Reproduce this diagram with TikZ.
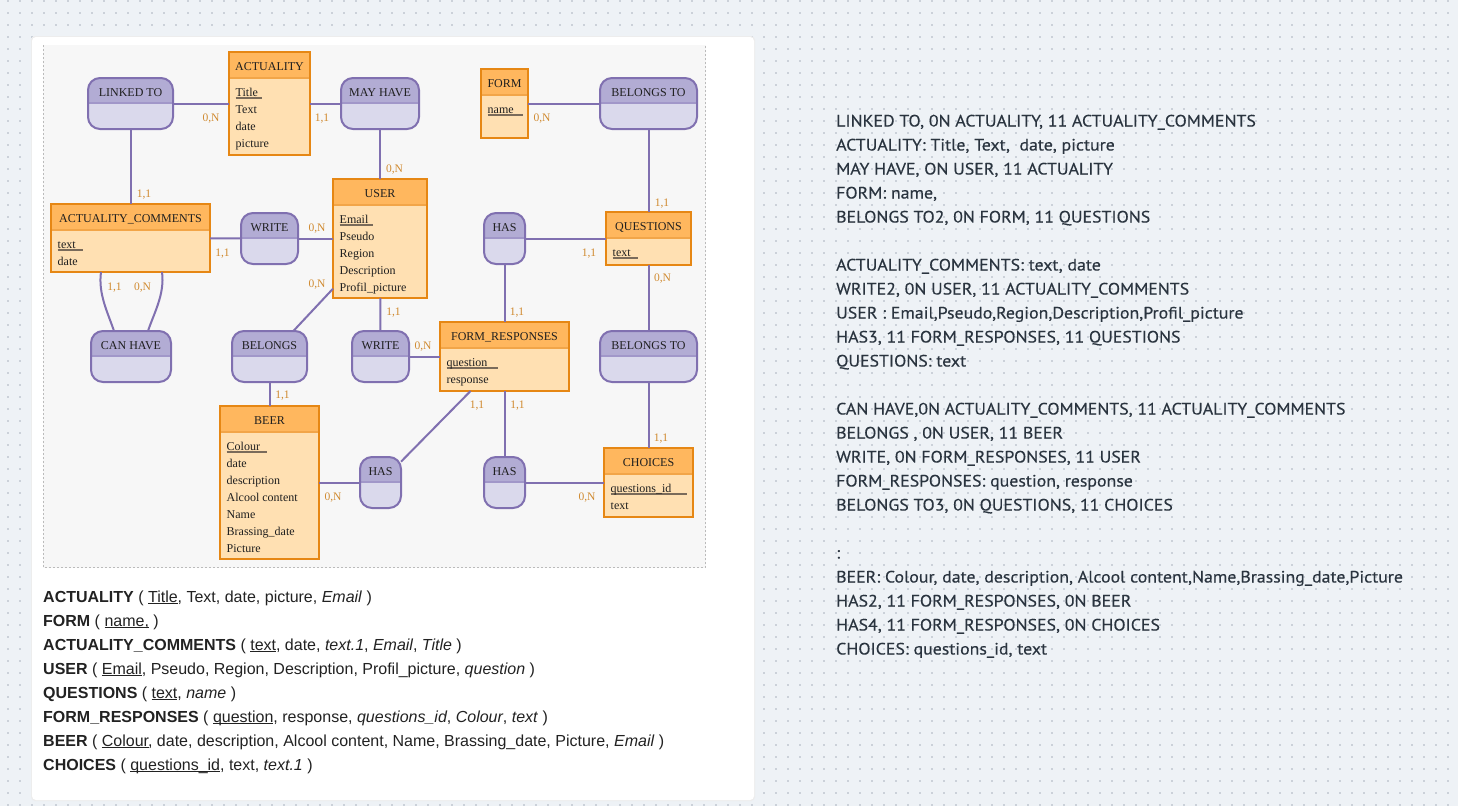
\documentclass[tikz,border=0pt]{standalone}
\usepackage{fontspec}
\setmainfont{Liberation Serif}
\newfontfamily\botfont{Liberation Sans}
\newfontfamily\rfont[FakeStretch=1.08,FakeBold=0.3]{PT Sans}
\definecolor{bgcol}{HTML}{EEF2F6}
\definecolor{dotcol}{HTML}{CBD1D9}
\definecolor{diagbg}{HTML}{F7F7F7}
\definecolor{dashcol}{HTML}{BBBBBB}
\definecolor{relhead}{HTML}{B2ACD4}
\definecolor{relbody}{HTML}{DAD9EC}
\definecolor{relline}{HTML}{8070B0}
\definecolor{relsep}{HTML}{A197C9}
\definecolor{enthead}{HTML}{FFB75E}
\definecolor{entbody}{HTML}{FFE0B2}
\definecolor{entline}{HTML}{E68714}
\definecolor{entsep}{HTML}{F2A548}
\definecolor{cardcol}{HTML}{D08A30}
\definecolor{ulcol}{HTML}{7A6B5A}
\definecolor{boxtext}{HTML}{1F1F1F}
\definecolor{rtext}{HTML}{2A343F}
\definecolor{bottext}{HTML}{222222}
\newcommand\keyu[2]{\setbox0\hbox{#1}\rlap{\color{ulcol}\rule[-2.7pt]{\dimexpr\wd0+#2pt\relax}{1.8pt}}#1}
\newcommand\bu[1]{\setbox0\hbox{#1}\rlap{\rule[-2.2pt]{\wd0}{1pt}}#1}
\tikzset{
  boxnode/.style={rectangle, inner sep=0pt, outer sep=0pt, draw=none},
  boxlabel/.style={inner sep=0pt, text=boxtext, font=\fontsize{12}{14}\selectfont},
  attr/.style={inner sep=0pt, anchor=base west, text=boxtext, font=\fontsize{12}{14}\selectfont},
  conn/.style={draw=relline, line width=2pt},
  card/.style={inner sep=0pt, anchor=base, text=cardcol, font=\fontsize{11.5}{13}\selectfont},
  rline/.style={inner sep=0pt, anchor=base west, text=rtext, font=\rfont\fontsize{16.5}{19}\selectfont},
  bline/.style={inner sep=0pt, anchor=base west, text=bottext, font=\botfont\fontsize{16}{19}\selectfont},
}
% relation: name, x1, y1, x2, y2, label
\newcommand\relbox[6]{%
  \node[boxnode, minimum width={(#4-#2)*1pt}, minimum height={(#5-#3)*1pt}] (#1) at ({(#2+#4)/2},{(#3+#5)/2}) {};
  \begin{scope}
    \clip[rounded corners=12pt] (#2,#3) rectangle (#4,#5);
    \fill[relbody] (#2,#3) rectangle (#4,#5);
    \fill[relhead] (#2,#3) rectangle (#4,#3+25);
  \end{scope}
  \draw[relsep, line width=1.5pt] (#2+1,#3+25) -- (#4-1,#3+25);
  \draw[relline, line width=2pt, rounded corners=12pt] (#2,#3) rectangle (#4,#5);
  \node[boxlabel] (#1-t) at ({(#2+#4)/2},#3+15) {#6};
}
% entity: name, x1, y1, x2, y2, title, attributes
\newcommand\entbox[7]{%
  \node[boxnode, minimum width={(#4-#2)*1pt}, minimum height={(#5-#3)*1pt}] (#1) at ({(#2+#4)/2},{(#3+#5)/2}) {};
  \fill[entbody] (#2,#3) rectangle (#4,#5);
  \fill[enthead] (#2,#3) rectangle (#4,#3+26);
  \draw[entsep, line width=1.5pt] (#2+1,#3+26) -- (#4-1,#3+26);
  \draw[entline, line width=2pt] (#2,#3) rectangle (#4,#5);
  \node[boxlabel] (#1-t) at ({(#2+#4)/2},#3+15) {#6};
  \foreach[count=\i] \a in {#7} {
    \node[attr, name=#1-a\i] at (#2+6.5,{#3+26+18+17*(\i-1)}) {\a};
  }
}
\begin{document}
\begin{tikzpicture}[x=1pt,y=-1pt]
\useasboundingbox (0,0) rectangle (1458,806);
\fill[bgcol] (0,0) rectangle (1458,806);
\foreach \j in {0,...,67} {
  \draw[dotcol, line width=2pt, dash pattern=on 2pt off 10pt] (7,{1+12*\j}) -- (1458,{1+12*\j});
}
% panel
\fill[black!7, rounded corners=4pt] (31,36) rectangle (755,801);
\fill[white, rounded corners=4pt] (32,37) rectangle (754,800);
\fill[diagbg] (43,45) rectangle (706,568);
\draw[dashcol, line width=1pt, dash pattern=on 2pt off 2pt] (43.5,45) -- (43.5,567.5) -- (705.5,567.5) -- (705.5,45);

% relations
\relbox{linked}{88}{78}{173}{129}{LINKED TO}
\relbox{mayhave}{341}{78}{419}{129}{MAY HAVE}
\relbox{belongstoA}{600}{78}{697}{129}{BELONGS TO}
\relbox{writeA}{241}{213}{298}{264}{WRITE}
\relbox{hasA}{484}{213}{525}{264}{HAS}
\relbox{canhave}{91}{331}{171}{382}{CAN HAVE}
\relbox{belongs}{232}{331}{307}{382}{BELONGS}
\relbox{writeB}{352}{331}{409}{382}{WRITE}
\relbox{belongstoB}{600}{331}{697}{382}{BELONGS TO}
\relbox{hasB}{360}{457}{401}{508}{HAS}
\relbox{hasC}{484}{457}{525}{508}{HAS}

% entities
\entbox{actuality}{229}{52}{310}{155}{ACTUALITY}{\keyu{Title}{4},Text,date,picture}
\entbox{form}{481}{69}{528}{138}{FORM}{\keyu{name}{9}}
\entbox{actcom}{51}{204}{210}{272}{ACTUALITY\_COMMENTS}{\keyu{text}{7},date}
\entbox{user}{333}{179}{427}{298}{USER}{\keyu{Email}{5},Pseudo,Region,Description,Profil\_picture}
\entbox{questions}{606}{212}{691}{265}{QUESTIONS}{\keyu{text}{7}}
\entbox{formresp}{440}{322}{569}{391}{FORM\_RESPONSES}{\keyu{question}{11},response}
\entbox{beer}{220}{406}{319}{559}{BEER}{\keyu{Colour}{7},date,description,Alcool content,Name,Brassing\_date,Picture}
\entbox{choices}{604}{448}{693}{517}{CHOICES}{\keyu{questions\_id}{16},text}

% connectors
\draw[conn] (linked) -- (actuality);
\draw[conn] (actuality) -- (mayhave);
\draw[conn] (mayhave) -- (user);
\draw[conn] (linked) -- (actcom);
\draw[conn] (form) -- (belongstoA);
\draw[conn] (belongstoA) -- (questions);
\draw[conn] (actcom) -- (writeA);
\draw[conn] (writeA) -- (user);
\draw[conn] (hasA) -- (questions);
\draw[conn] (hasA) -- (formresp);
\draw[conn] (questions) -- (belongstoB);
\draw[conn] (user) -- (writeB);
\draw[conn] (belongs) -- (user);
\draw[conn] (writeB) -- (formresp);
\draw[conn] (belongs) -- (beer);
\draw[conn] (beer) -- (hasB);
\draw[conn] (hasB) -- (formresp);
\draw[conn] (formresp) -- (hasC);
\draw[conn] (hasC) -- (choices);
\draw[conn] (belongstoB) -- (choices);
\draw[conn] ([xshift=-29.5pt]actcom.south) .. controls +(-3,22) and +(-6,-18) .. ([xshift=-17pt]canhave.north);
\draw[conn] ([xshift=31.5pt]actcom.south) .. controls +(3,22) and +(6,-18) .. ([xshift=17pt]canhave.north);

% cardinalities
\node[card] (c1) at (211,121) {0,N};
\node[card] (c2) at (322,121) {1,1};
\node[card] (c3) at (394.5,172) {0,N};
\node[card] (c4) at (144,197) {1,1};
\node[card] (c5) at (542,121) {0,N};
\node[card] (c6) at (662,206) {1,1};
\node[card] (c7) at (222.5,256) {1,1};
\node[card] (c8) at (317,231) {0,N};
\node[card] (c9) at (317,287) {0,N};
\node[card] (c10) at (114.5,290) {1,1};
\node[card] (c11) at (142.5,290) {0,N};
\node[card] (c12) at (282.5,398.5) {1,1};
\node[card] (c13) at (589,256) {1,1};
\node[card] (c14) at (662.5,281) {0,N};
\node[card] (c15) at (393.5,315) {1,1};
\node[card] (c16) at (517,315) {1,1};
\node[card] (c17) at (423,349) {0,N};
\node[card] (c18) at (477,408.5) {1,1};
\node[card] (c19) at (517.5,408.5) {1,1};
\node[card] (c20) at (661,441.5) {1,1};
\node[card] (c21) at (587,500) {0,N};
\node[card] (c22) at (333,500) {0,N};

% bottom text
\node[bline] (b1) at (43,602) {\textbf{ACTUALITY} ( \bu{Title}, Text, date, picture, \textit{Email} )};
\node[bline] (b2) at (43,626) {\textbf{FORM} ( \bu{name,} )};
\node[bline] (b3) at (43,650) {\textbf{ACTUALITY\_COMMENTS} ( \bu{text}, date, \textit{text.1}, \textit{Email}, \textit{Title} )};
\node[bline] (b4) at (43,674) {\textbf{USER} ( \bu{Email}, Pseudo, Region, Description, Profil\_picture, \textit{question} )};
\node[bline] (b5) at (43,698) {\textbf{QUESTIONS} ( \bu{text}, \textit{name} )};
\node[bline] (b6) at (43,722) {\textbf{FORM\_RESPONSES} ( \bu{question}, response, \textit{questions\_id}, \textit{Colour}, \textit{text} )};
\node[bline] (b7) at (43,746) {\textbf{BEER} ( \bu{Colour}, date, description, Alcool content, Name, Brassing\_date, Picture, \textit{Email} )};
\node[bline] (b8) at (43,770) {\textbf{CHOICES} ( \bu{questions\_id}, text, \textit{text.1} )};

% right text
\node[rline] (r0) at (836,126.5) {LINKED TO, 0N ACTUALITY, 11 ACTUALITY\_COMMENTS};
\node[rline] (r1) at (836,150.5) {ACTUALITY: Title, Text,\ \ date, picture};
\node[rline] (r2) at (836,174.5) {MAY HAVE, ON USER, 11 ACTUALITY};
\node[rline] (r3) at (836,198.5) {FORM: name,};
\node[rline] (r4) at (836,222.5) {BELONGS TO2, 0N FORM, 11 QUESTIONS};
\node[rline] (r6) at (836,270.5) {ACTUALITY\_COMMENTS: text, date};
\node[rline] (r7) at (836,294.5) {WRITE2, 0N USER, 11 ACTUALITY\_COMMENTS};
\node[rline] (r8) at (836,318.5) {USER : Email,Pseudo,Region,Description,Profil\_picture};
\node[rline] (r9) at (836,342.5) {HAS3, 11 FORM\_RESPONSES, 11 QUESTIONS};
\node[rline] (r10) at (836,366.5) {QUESTIONS: text};
\node[rline] (r12) at (836,414.5) {CAN HAVE,0N ACTUALITY\_COMMENTS, 11 ACTUALITY\_COMMENTS};
\node[rline] (r13) at (836,438.5) {BELONGS , 0N USER, 11 BEER};
\node[rline] (r14) at (836,462.5) {WRITE, 0N FORM\_RESPONSES, 11 USER};
\node[rline] (r15) at (836,486.5) {FORM\_RESPONSES: question, response};
\node[rline] (r16) at (836,510.5) {BELONGS TO3, 0N QUESTIONS, 11 CHOICES};
\node[rline] (r18) at (836,558.5) {:};
\node[rline] (r19) at (836,582.5) {BEER: Colour, date, description, Alcool content,Name,Brassing\_date,Picture};
\node[rline] (r20) at (836,606.5) {HAS2, 11 FORM\_RESPONSES, 0N BEER};
\node[rline] (r21) at (836,630.5) {HAS4, 11 FORM\_RESPONSES, 0N CHOICES};
\node[rline] (r22) at (836,654.5) {CHOICES: questions\_id, text};
\end{tikzpicture}
\end{document}
